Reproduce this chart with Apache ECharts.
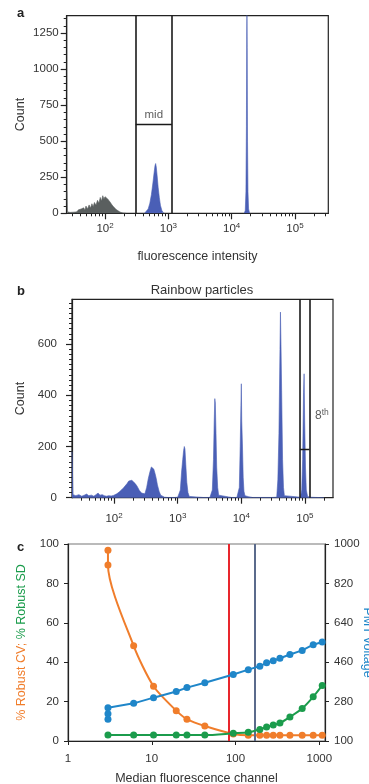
<!DOCTYPE html>
<html><head><meta charset="utf-8">
<script src="https://cdn.jsdelivr.net/npm/echarts@6/dist/echarts.min.js"></script>
<style>html,body{margin:0;padding:0;background:#fff}#chart{width:369px;height:784px}</style>
</head><body><div id="chart"></div>
<script>
// ---------- Panel a: histogram ----------
const aDimX = [25, 25.6, 28, 30, 32, 34, 36, 38, 40, 42, 44, 46, 48, 50, 53, 56, 59, 62, 65, 68, 72, 76, 80, 84, 88, 92, 96, 100, 105, 110, 115, 120, 126, 133, 140, 150, 160, 172, 185, 200, 215];
const aDimCount = [150, 10, 6, 14, 8, 18, 10, 24, 14, 30, 18, 38, 22, 50, 30, 58, 36, 66, 45, 75, 55, 90, 70, 110, 85, 122, 100, 115, 108, 100, 90, 78, 64, 50, 38, 26, 16, 9, 4, 1, 0];
const aMidX = [420, 450, 480, 510, 540, 570, 595, 615, 630, 645, 665, 690, 720, 750, 790, 830, 870];
const aMidCount = [0, 8, 30, 70, 130, 210, 280, 330, 345, 320, 260, 180, 110, 55, 20, 5, 0];
const aBrightX = [15800, 16400, 16800, 17100, 17300, 17450, 17600, 17800, 18100, 18500, 19200];
const aBrightCount = [0, 20, 150, 600, 1250, 1420, 1150, 500, 150, 30, 0];
const aGateX = [305, 1137];
const aGateLevel = 616;
const aGateText = 'mid';
const aXRange = [24.8, 336000];
const aXLabels = [100, 1000, 10000, 100000];
const aYMax = 1370;
const aYLabels = [0, 250, 500, 750, 1000, 1250];

// ---------- Panel b: rainbow particles ----------
const bX = [21.8, 22.6, 25, 28, 31, 34, 37, 40, 44, 48, 52, 56, 60, 65, 70, 76, 82, 90, 98,
  100, 110, 120, 130, 140, 150, 160, 170, 180, 190, 200, 215, 230, 250, 270, 290,
  305, 325, 345, 365, 385, 400, 420, 440, 460, 480, 510, 540, 570, 620, 700, 900, 1000,
  1050, 1100, 1150, 1200, 1240, 1270, 1300, 1340, 1390, 1450, 1520, 1600, 2500, 3200,
  3350, 3500, 3650, 3750, 3830, 3900, 4000, 4100, 4250, 4400, 4600, 7000, 8500,
  9000, 9300, 9600, 9850, 10000, 10150, 10400, 10700, 11000, 11400, 12000, 13000, 15000, 30000,
  36000, 37500, 39000, 40500, 41200, 42000, 43000, 44500, 46000, 47500, 50000,
  85000, 89000, 92000, 95000, 97000, 99000, 102000, 105000, 110000, 120000, 150000, 200000];
const bCount = [180, 12, 8, 12, 6, 10, 14, 8, 10, 6, 12, 18, 10, 12, 8, 6, 8, 7, 9,
  10, 15, 22, 30, 38, 45, 55, 65, 70, 68, 66, 55, 45, 28, 18, 14,
  15, 40, 75, 100, 120, 125, 112, 95, 75, 50, 25, 10, 4, 2, 1, 1, 2,
  3, 30, 100, 150, 185, 200, 190, 130, 60, 20, 5, 2, 1, 1,
  2, 30, 150, 300, 387, 370, 250, 120, 40, 10, 3, 1, 1,
  2, 40, 200, 360, 445, 300, 210, 80, 25, 8, 6, 4, 1, 1,
  2, 70, 250, 580, 725, 600, 420, 150, 40, 8, 2,
  2, 30, 150, 410, 484, 300, 120, 30, 5, 2, 1, 0];
const bGateX = [83500, 118000];
const bGateLevel = 188;
const bGateTextPos = [118000, 322];
const bXRange = [21.8, 276000];
const bXLabels = [100, 1000, 10000, 100000];
const bYMax = 775;
const bYLabels = [0, 200, 400, 600];

// ---------- Panel c: CV / SD / PMT voltage ----------
const cCvX = [3, 3, 6.08, 10.5, 19.6, 26.3, 43, 94, 142, 195, 235, 282, 339, 446, 625, 846, 1084];
const cCvY = [96.8, 89.4, 48.3, 27.8, 15.4, 11.1, 7.6, 3.6, 2.9, 2.9, 2.9, 2.9, 2.9, 2.9, 2.9, 2.9, 2.9];
const cSdX = [3, 6.08, 10.5, 19.6, 26.3, 43, 94, 142, 195, 235, 282, 339, 446, 625, 846, 1084];
const cSdY = [3.0, 3.0, 3.0, 3.0, 3.0, 3.0, 3.9, 4.4, 5.9, 7.1, 8.1, 9.1, 12.2, 16.5, 22.4, 28.2];
const cPmtX = [3, 3, 3, 6.08, 10.5, 19.6, 26.3, 43, 94, 142, 195, 235, 282, 339, 446, 625, 846, 1084];
const cPmtY = [199, 225, 252, 272, 298, 326, 344, 366, 404, 426, 442, 457, 467, 478, 495, 514, 540, 552];
const cRefLines = [83.4, 170.6];
const cXRange = [1, 1170];
const cXLabels = [1, 10, 100, 1000];
const cLeftLabels = [0, 20, 40, 60, 80, 100];
const cRightLabels = [100, 280, 460, 640, 820, 1000];

// ---------- styling ----------
const FONT = '"Liberation Sans", Arial, sans-serif';
const TXT = '#333';
const AX = '#222';
const BLUE_FILL = '#4a5fb6';
const GRAY_FILL = '#5a5f5f';
const ORANGE = '#f07d2b', GREEN = '#1b9c4c', BLUE = '#1f86c9', RED = '#e8262d', SLATE = '#5b6b8c';

function zip(xs, ys) { return xs.map((x, i) => [x, ys[i]]); }
function logMinor(lo, hi) {
  const out = [];
  for (let e = Math.floor(Math.log10(lo)); e <= Math.ceil(Math.log10(hi)); e++) {
    for (let k = 1; k <= 9; k++) { const v = k * Math.pow(10, e); if (v >= lo && v <= hi) out.push(v); }
  }
  return out;
}
function linTicks(step, max) { const o = []; for (let v = 0; v <= max; v += step) o.push(v); return o; }
const plain = v => String(v);
const supRich = {
  b: { fontSize: 11.5, fontFamily: FONT, color: TXT, lineHeight: 15 },
  s: { fontSize: 8, fontFamily: FONT, color: TXT, verticalAlign: 'top', lineHeight: 9 }
};
function powLabel(v) { return '{b|10}{s|' + Math.round(Math.log10(v)) + '}'; }

function histX(grid, range, labels, withName, margin) {
  return [{
    type: 'log', gridIndex: grid, min: range[0], max: range[1], position: 'bottom',
    axisLine: { show: true, lineStyle: { color: AX, width: 1.2 } },
    axisTick: { show: true, length: 3, customValues: logMinor(range[0], range[1]), lineStyle: { color: AX, width: 1 } },
    axisLabel: { show: true, customValues: labels, formatter: powLabel, rich: supRich, margin: margin },
    splitLine: { show: false },
    name: withName ? 'fluorescence intensity' : '', nameLocation: 'middle', nameGap: 37, nameMoveOverlap: false,
    nameTextStyle: { fontSize: 12.5, fontFamily: FONT, color: TXT }
  }, {
    type: 'log', gridIndex: grid, min: range[0], max: range[1], position: 'bottom',
    axisLine: { show: false },
    axisTick: { show: true, length: 6, customValues: labels, lineStyle: { color: AX, width: 1.2 } },
    axisLabel: { show: false }, splitLine: { show: false }
  }];
}
function histY(grid, max, labels, minorStep, gap, margin) {
  return [{
    type: 'value', gridIndex: grid, min: 0, max: max, position: 'left',
    axisLine: { show: true, lineStyle: { color: AX, width: 1.2 } },
    axisTick: { show: true, length: 3, customValues: linTicks(minorStep, max), lineStyle: { color: AX, width: 1 } },
    axisLabel: { customValues: labels, formatter: plain, fontSize: 11.5, fontFamily: FONT, color: TXT, margin: margin },
    splitLine: { show: false },
    name: 'Count', nameLocation: 'middle', nameGap: gap, nameMoveOverlap: false,
    nameTextStyle: { fontSize: 12.5, fontFamily: FONT, color: TXT }
  }, {
    type: 'value', gridIndex: grid, min: 0, max: max, position: 'left',
    axisLine: { show: false },
    axisTick: { show: true, length: 6, customValues: labels, lineStyle: { color: AX, width: 1.2 } },
    axisLabel: { show: false }, splitLine: { show: false }
  }];
}
function area(x, y, color, xi, yi, z) {
  return {
    type: 'line', xAxisIndex: xi, yAxisIndex: yi, data: zip(x, y), symbol: 'none', clip: true, z: z || 2,
    lineStyle: { color: color, width: 0.6 }, areaStyle: { color: color, opacity: 1 }
  };
}
const gateLine = { color: '#1a1a1a', width: 1.6, type: 'solid' };

const option = {
  animation: false,
  backgroundColor: '#fff',
  textStyle: { fontFamily: FONT },
  title: [
    { text: 'a', left: 12, top: 2, textStyle: { fontSize: 13, fontWeight: 'bold', color: '#222', fontFamily: FONT } },
    { text: 'b', left: 12, top: 280, textStyle: { fontSize: 13, fontWeight: 'bold', color: '#222', fontFamily: FONT } },
    { text: 'c', left: 12, top: 536, textStyle: { fontSize: 13, fontWeight: 'bold', color: '#222', fontFamily: FONT } },
    { text: 'Rainbow particles', left: 197, top: 279, textAlign: 'center', textStyle: { fontSize: 13, fontWeight: 'normal', color: TXT, fontFamily: FONT } }
  ],
  grid: [
    { left: 66.7, top: 15.7, width: 261.6, height: 197.6, show: true, borderColor: AX, borderWidth: 1.2, containLabel: false, outerBoundsMode: 'none' },
    { left: 72, top: 299.3, width: 261, height: 198.4, show: true, borderColor: AX, borderWidth: 1.2, containLabel: false, outerBoundsMode: 'none' },
    { left: 68, top: 544, width: 257, height: 197, show: true, borderColor: '#777', borderWidth: 1.2, containLabel: false, outerBoundsMode: 'none' }
  ],
  xAxis: [].concat(
    histX(0, aXRange, aXLabels, true, 8),
    histX(1, bXRange, bXLabels, false, 14),
    [{
      type: 'log', gridIndex: 2, min: cXRange[0], max: cXRange[1], position: 'bottom',
      axisLine: { show: true, lineStyle: { color: AX, width: 1.2 } },
      axisTick: { show: true, length: 4, customValues: cXLabels, lineStyle: { color: AX } },
      axisLabel: { customValues: cXLabels, fontSize: 11.5, fontFamily: FONT, color: TXT, margin: 12, formatter: plain },
      splitLine: { show: false },
      name: 'Median fluorescence channel', nameLocation: 'middle', nameGap: 31, nameMoveOverlap: false,
      nameTextStyle: { fontSize: 12.5, fontFamily: FONT, color: TXT }
    }]
  ),
  yAxis: [].concat(
    histY(0, aYMax, aYLabels, 50, 40, 8),
    histY(1, bYMax, bYLabels, 20, 45, 15),
    [{
      type: 'value', gridIndex: 2, min: 0, max: 100, interval: 20, position: 'left',
      axisLine: { show: true, lineStyle: { color: AX, width: 1.2 } },
      axisTick: { show: true, length: 4, lineStyle: { color: AX } },
      axisLabel: { customValues: cLeftLabels, formatter: plain, fontSize: 11.5, fontFamily: FONT, color: TXT, margin: 9 },
      splitLine: { show: false },
      name: '{o|% Robust CV;} {g|% Robust SD}', nameLocation: 'middle', nameGap: 40, nameMoveOverlap: false,
      nameTextStyle: { fontSize: 12.5, fontFamily: FONT, rich: { o: { color: ORANGE, fontSize: 12.5, fontFamily: FONT }, g: { color: GREEN, fontSize: 12.5, fontFamily: FONT } } }
    }, {
      type: 'value', gridIndex: 2, min: 100, max: 1000, position: 'right',
      axisLine: { show: true, lineStyle: { color: AX, width: 1.2 } },
      axisTick: { show: true, length: 4, customValues: cRightLabels, lineStyle: { color: AX } },
      axisLabel: { customValues: cRightLabels, formatter: plain, fontSize: 11.5, fontFamily: FONT, color: TXT, margin: 9 },
      splitLine: { show: false },
      name: 'PMT voltage', nameLocation: 'middle', nameGap: 36, nameRotate: -90, nameMoveOverlap: false,
      nameTextStyle: { fontSize: 12.5, fontFamily: FONT, color: BLUE }
    }]
  ),
  series: [
    area(aDimX, aDimCount, GRAY_FILL, 0, 0),
    area(aMidX, aMidCount, BLUE_FILL, 0, 0),
    area(aBrightX, aBrightCount, BLUE_FILL, 0, 0),
    {
      type: 'line', xAxisIndex: 0, yAxisIndex: 0, z: 5, symbol: 'none',
      data: [[aGateX[0], aGateLevel], [aGateX[1], aGateLevel]], lineStyle: gateLine,
      markLine: { silent: true, symbol: 'none', label: { show: false }, lineStyle: gateLine,
        data: aGateX.map(v => ({ xAxis: v })) }
    },
    {
      type: 'scatter', xAxisIndex: 0, yAxisIndex: 0, z: 6, symbolSize: 1, itemStyle: { color: 'rgba(0,0,0,0)' },
      data: [[Math.sqrt(aGateX[0] * aGateX[1]), aGateLevel]],
      label: { show: true, position: 'top', distance: 3, formatter: aGateText, fontSize: 11.5, fontFamily: FONT, color: TXT }
    },
    area(bX, bCount, BLUE_FILL, 2, 2),
    {
      type: 'line', xAxisIndex: 2, yAxisIndex: 2, z: 5, symbol: 'none',
      data: [[bGateX[0], bGateLevel], [bGateX[1], bGateLevel]], lineStyle: gateLine,
      markLine: { silent: true, symbol: 'none', label: { show: false }, lineStyle: gateLine,
        data: bGateX.map(v => ({ xAxis: v })) }
    },
    {
      type: 'scatter', xAxisIndex: 2, yAxisIndex: 2, z: 6, symbolSize: 1, itemStyle: { color: 'rgba(0,0,0,0)' },
      data: [bGateTextPos],
      label: { show: true, position: 'right', distance: 5, formatter: '{a|8}{s|th}',
        rich: { a: { fontSize: 12, fontFamily: FONT, color: TXT, lineHeight: 15 }, s: { fontSize: 8.5, fontFamily: FONT, color: TXT, verticalAlign: 'top', lineHeight: 9 } } }
    },
    {
      type: 'line', xAxisIndex: 4, yAxisIndex: 4, z: 3, data: [], symbol: 'none',
      markLine: { silent: true, symbol: 'none', label: { show: false },
        data: [{ xAxis: cRefLines[0], lineStyle: { color: RED, width: 2, type: 'solid' } },
               { xAxis: cRefLines[1], lineStyle: { color: SLATE, width: 2, type: 'solid' } }] }
    },
    {
      name: 'CV', type: 'line', xAxisIndex: 4, yAxisIndex: 4, z: 4, data: zip(cCvX, cCvY), smooth: 0.25,
      symbol: 'circle', symbolSize: 7, showAllSymbol: true, itemStyle: { color: ORANGE }, lineStyle: { color: ORANGE, width: 2 }
    },
    {
      name: 'PMT', type: 'line', xAxisIndex: 4, yAxisIndex: 5, z: 5, data: zip(cPmtX, cPmtY),
      symbol: 'circle', symbolSize: 7, showAllSymbol: true, itemStyle: { color: BLUE }, lineStyle: { color: BLUE, width: 2 }
    },
    {
      name: 'SD', type: 'line', xAxisIndex: 4, yAxisIndex: 4, z: 6, data: zip(cSdX, cSdY), smooth: 0.25,
      symbol: 'circle', symbolSize: 7, showAllSymbol: true, itemStyle: { color: GREEN }, lineStyle: { color: GREEN, width: 2 }
    }
  ]
};
const chart = echarts.init(document.getElementById('chart'), null, { renderer: 'canvas' });
chart.setOption(option);
</script></body></html>
